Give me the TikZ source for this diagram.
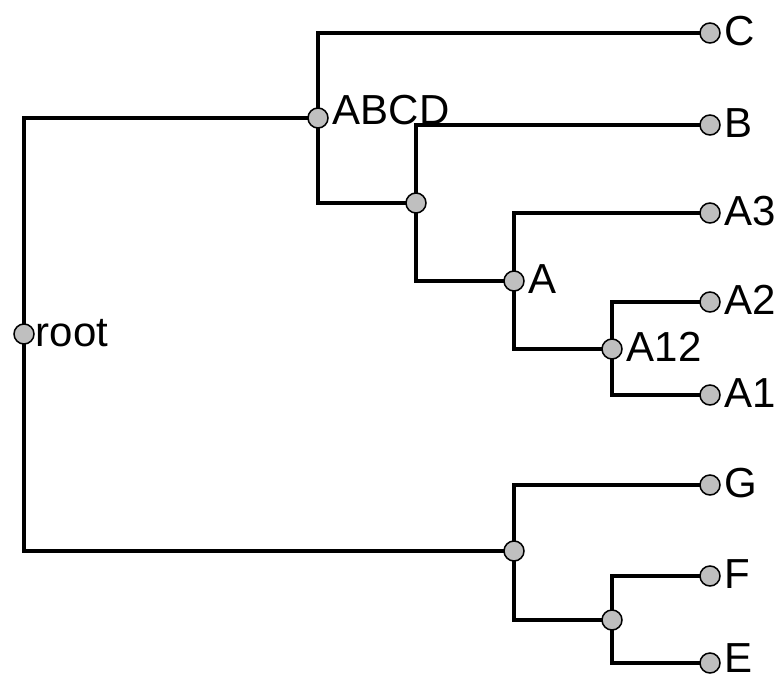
\documentclass[tikz,border=0pt]{standalone}
\usepackage{fontspec}
\setmainfont{Liberation Sans}
\usetikzlibrary{backgrounds}
\tikzset{
  tnode/.style={circle, draw=black, line width=1.5pt, fill=black!25, minimum size=20pt, inner sep=0pt},
  tlabel/.style={font=\fontsize{42}{46}\selectfont, inner xsep=4pt, inner ysep=0pt, text height=30pt, text depth=0pt, yshift=2.5pt},
  edge/.style={draw=black, line width=3.2pt, line cap=rect}
}
\begin{document}
\begin{tikzpicture}[x=1pt,y=-1pt]
\useasboundingbox (0,0) rectangle (781,677);
\node[tnode,label={[tlabel,xshift=-3pt]right:root}] (root) at (24,334) {};
\node[tnode,label={[tlabel,yshift=6pt]right:ABCD}] (abcd) at (318,118) {};
\node[tnode] (n1) at (416,203) {};
\node[tnode,label={[tlabel]right:A}] (a) at (514,281) {};
\node[tnode,label={[tlabel]right:A12}] (a12) at (612,349) {};
\node[tnode,label={[tlabel]right:C}] (c) at (710,33) {};
\node[tnode,label={[tlabel]right:B}] (b) at (710,125) {};
\node[tnode,label={[tlabel]right:A3}] (a3) at (710,213) {};
\node[tnode,label={[tlabel]right:A2}] (a2) at (710,302) {};
\node[tnode,label={[tlabel]right:A1}] (a1) at (710,395) {};
\node[tnode] (n2) at (514,551) {};
\node[tnode,label={[tlabel]right:G}] (g) at (710,485) {};
\node[tnode] (n3) at (612,620) {};
\node[tnode,label={[tlabel]right:F}] (f) at (710,576) {};
\node[tnode,label={[tlabel,yshift=3pt]right:E}] (e) at (710,663) {};
\begin{scope}[on background layer]
\draw[edge] (root.center) |- (abcd.center);
\draw[edge] (root.center) |- (n2.center);
\draw[edge] (abcd.center) |- (c.center);
\draw[edge] (abcd.center) |- (n1.center);
\draw[edge] (n1.center) |- (b.center);
\draw[edge] (n1.center) |- (a.center);
\draw[edge] (a.center) |- (a3.center);
\draw[edge] (a.center) |- (a12.center);
\draw[edge] (a12.center) |- (a2.center);
\draw[edge] (a12.center) |- (a1.center);
\draw[edge] (n2.center) |- (g.center);
\draw[edge] (n2.center) |- (n3.center);
\draw[edge] (n3.center) |- (f.center);
\draw[edge] (n3.center) |- (e.center);
\end{scope}
\end{tikzpicture}
\end{document}
